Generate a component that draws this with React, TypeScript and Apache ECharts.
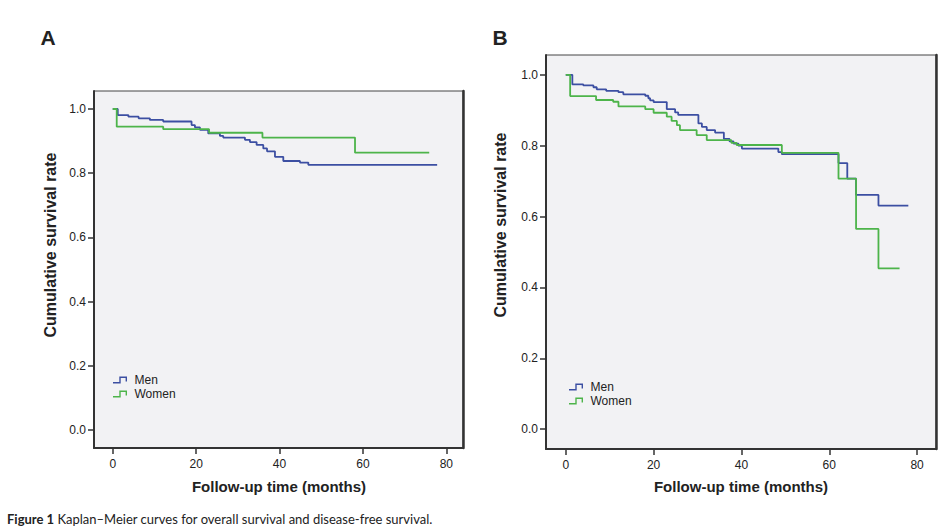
import React, { useEffect, useRef } from "react";
import * as echarts from "echarts";

// ---- data (month, cumulative survival) ----
const xTickValues = [0, 20, 40, 60, 80];
const yTickValues = [0, 0.2, 0.4, 0.6, 0.8, 1.0];
const seriesNames = ["Men", "Women"];
const panelLetters = ["A", "B"];
const xTitle = "Follow-up time (months)";
const yTitle = "Cumulative survival rate";
const captionBold = "Figure 1";
const captionText = "Kaplan–Meier curves for overall survival and disease-free survival.";

const menA = [
  [0, 1.0], [1.2, 0.981], [3.75, 0.976], [6.2, 0.971], [8.9, 0.966], [12.1, 0.961],
  [18.9, 0.95], [19.7, 0.943], [20.9, 0.935], [22.9, 0.924], [25.7, 0.916], [26.5, 0.911],
  [31.7, 0.904], [32.9, 0.897], [34.5, 0.888], [36.1, 0.877], [37.0, 0.868], [38.9, 0.851],
  [40.9, 0.838], [44.9, 0.833], [46.9, 0.826], [77.8, 0.826],
];
const womenA = [
  [0, 1.0], [0.95, 0.945], [12.1, 0.937], [23.1, 0.926], [35.9, 0.911], [58.1, 0.864], [75.9, 0.864],
];
const menB = [
  [0, 1.0], [1.5, 0.973], [4.0, 0.97], [6.3, 0.965], [7.05, 0.959], [9.2, 0.955], [12.0, 0.951],
  [13.1, 0.945], [18.1, 0.941], [18.8, 0.934], [19.2, 0.928], [20.0, 0.923], [23.0, 0.903],
  [24.9, 0.894], [25.6, 0.887], [30.2, 0.863], [31.0, 0.853], [32.1, 0.844], [34.0, 0.837],
  [36.0, 0.819], [37.3, 0.812], [38.2, 0.806], [39.3, 0.8], [40.1, 0.792], [48.4, 0.782],
  [49.2, 0.776], [62.1, 0.751], [64.1, 0.707], [66.1, 0.661], [71.2, 0.631], [78.0, 0.631],
];
const womenB = [
  [0, 1.0], [1.0, 0.94], [6.9, 0.929], [10.8, 0.924], [12.0, 0.911], [18.1, 0.903], [20.0, 0.893],
  [23.0, 0.882], [24.1, 0.87], [25.3, 0.858], [26.0, 0.844], [29.8, 0.83], [32.1, 0.816],
  [37.7, 0.808], [38.9, 0.802], [49.2, 0.78], [62.1, 0.707], [66.1, 0.565], [71.2, 0.454],
  [76.0, 0.454],
];

const BLUE = "#3c4fa2";
const GREEN = "#4db44a";
const FONT = "Liberation Sans, Arial, sans-serif";
const ICON = "path://M0,8 L9,8 L9,0 L20,0 L20,7 L18,7 L18,2 L11,2 L11,10 L0,10 Z";

export default function App() {
  const ref = useRef<HTMLDivElement>(null);
  useEffect(() => {
    if (!ref.current) return;
    const chart = echarts.init(ref.current, null, { renderer: "svg" });

    const grids = [
      { left: 94, top: 91, width: 369, height: 357 },
      { left: 546, top: 55, width: 390, height: 394 },
    ];
    const makeX = (i: number) => ({
      type: "value",
      gridIndex: i,
      min: -4.5,
      max: i === 0 ? 84 : 84.3,
      axisLine: { show: true, onZero: false, lineStyle: { color: "#333", width: 2 } },
      axisTick: { show: true, length: 6, customValues: xTickValues, lineStyle: { color: "#333", width: 1.5 } },
      axisLabel: { customValues: xTickValues, margin: 10, color: "#222", fontSize: 12, fontFamily: FONT },
      splitLine: { show: false },
    });
    const makeY = (i: number) => ({
      type: "value",
      gridIndex: i,
      min: -0.056,
      max: 1.056,
      axisLine: { show: true, onZero: false, lineStyle: { color: "#333", width: 2 } },
      axisTick: { show: true, length: 6, customValues: yTickValues, lineStyle: { color: "#333", width: 1.5 } },
      axisLabel: {
        customValues: yTickValues,
        margin: 8,
        color: "#222",
        fontSize: 12,
        fontFamily: FONT,
        formatter: (v: number) => v.toFixed(1),
      },
      splitLine: { show: false },
    });
    const makeRight = (i: number) => ({
      type: "value",
      gridIndex: i,
      position: "right",
      min: -0.056,
      max: 1.056,
      axisLine: { show: true, onZero: false, lineStyle: { color: "#333", width: 2.5 } },
      axisTick: { show: false },
      axisLabel: { show: false },
      splitLine: { show: false },
    });

    const line = (name: string, data: number[][], color: string, i: number) => ({
      name,
      type: "line",
      step: "end",
      xAxisIndex: i,
      yAxisIndex: i * 2,
      data,
      showSymbol: false,
      symbol: "none",
      lineStyle: { color, width: 1.8 },
      itemStyle: { color },
      z: name === "Women" ? 3 : 2,
    });

    const legend = (left: number, top: number) => ({
      orient: "vertical",
      left,
      top,
      padding: 0,
      itemWidth: 19,
      itemHeight: 7,
      itemGap: 0,
      selectedMode: false,
      icon: ICON,
      itemStyle: { borderWidth: 0 },
      textStyle: { color: "#222", fontSize: 12, fontFamily: FONT, lineHeight: 14, padding: [0, 0, 0, 0] },
      data: seriesNames.map((n) => ({ name: n, icon: ICON })),
    });

    const titleText = (text: string, x: number, y: number, rot: number, size: number) => ({
      type: "text",
      x,
      y,
      rotation: rot,
      style: {
        text,
        font: `bold ${size}px ${FONT}`,
        fill: "#222",
        align: "center",
        verticalAlign: "middle",
      },
    });

    chart.setOption({
      animation: false,
      backgroundColor: "#ffffff",
      grid: grids.map((g) => ({
        ...g,
        show: true,
        backgroundColor: "#f2f2f4",
        borderColor: "#444",
        borderWidth: 1,
      })),
      xAxis: [makeX(0), makeX(1)],
      yAxis: [makeY(0), makeRight(0), makeY(1), makeRight(1)],
      legend: [legend(113, 373), legend(569, 380)],
      series: [
        line(seriesNames[0], menA, BLUE, 0),
        line(seriesNames[1], womenA, GREEN, 0),
        line(seriesNames[0], menB, BLUE, 1),
        line(seriesNames[1], womenB, GREEN, 1),
      ],
      graphic: [
        titleText(panelLetters[0], 48, 37, 0, 21),
        titleText(panelLetters[1], 500, 37, 0, 21),
        titleText(yTitle, 50, 245, Math.PI / 2, 16),
        titleText(yTitle, 500, 225, Math.PI / 2, 16),
        titleText(xTitle, 279, 486, 0, 15),
        titleText(xTitle, 741, 486, 0, 15),
        {
          type: "text",
          x: 7,
          y: 519,
          style: {
            text: `{b|${captionBold}} ${captionText}`,
            font: "13px Lato, sans-serif",
            fill: "#222",
            verticalAlign: "middle",
            rich: { b: { fontWeight: "bold", fontSize: 13, fontFamily: "Lato, sans-serif" } },
          },
        },
      ],
    });
    return () => chart.dispose();
  }, []);
  return (
    <div
      ref={ref}
      style={{ position: "fixed", left: 0, top: 0, width: 943, height: 529 }}
    />
  );
}
